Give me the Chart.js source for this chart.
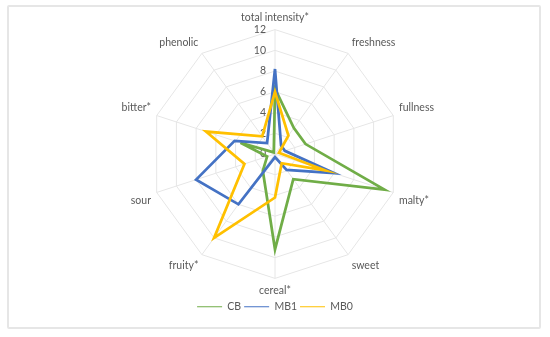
<!DOCTYPE html>
<html>
<head>
<meta charset="utf-8">
<script src="https://cdn.jsdelivr.net/npm/chart.js@4"></script>
<style>
body{margin:0;background:#fff}
#frame{position:absolute;left:7px;top:5px;width:530px;height:320px;border:2px solid #e6e6e6;border-radius:2px}
#chart{position:absolute;left:0;top:0}
</style>
</head>
<body>
<div id="frame"></div>
<canvas id="chart" width="550" height="337"></canvas>
<script>
const labels=["total intensity*","freshness","fullness","malty*","sweet","cereal*","fruity*","sour","bitter*","phenolic"];
const cb=[6.3,3.1,3.1,11.1,3.0,9.2,2.0,0.8,3.5,0.2];
const mb1=[8.2,1.0,1.0,6.0,1.9,0.3,6.0,8.0,4.1,1.3];
const mb0=[6.0,2.2,0.4,5.1,1.1,4.2,10.0,3.1,7.0,2.1];
const tickValues=[0,2,4,6,8,10,12];

// excel puts the tick numbers left of the vertical axis
const tickLabels={
  id:"tickLabels",
  beforeDatasetsDraw(chart){
    const s=chart.scales.r, ctx=chart.ctx;
    ctx.save();
    ctx.font="10.5px Lato";
    ctx.fillStyle="#595959";
    ctx.textAlign="right";
    ctx.textBaseline="middle";
    tickValues.forEach(v=>{
      ctx.fillText(String(v), s.xCenter-9, s.yCenter-s.getDistanceFromCenterForValue(v));
    });
    ctx.restore();
  }
};

new Chart("chart",{
  type:"radar",
  data:{
    labels:labels,
    datasets:[
      {label:"CB",data:cb,borderColor:"#70AD47",backgroundColor:"#70AD47",order:3},
      {label:"MB1",data:mb1,borderColor:"#4472C4",backgroundColor:"#4472C4",order:2},
      {label:"MB0",data:mb0,borderColor:"#FFC000",backgroundColor:"#FFC000",order:1},
    ],
  },
  options:{
    responsive:false,
    animation:false,
    layout:{padding:{top:11,bottom:15,left:10,right:10}},
    elements:{
      line:{borderWidth:2.75,fill:false,tension:0},
      point:{radius:0,hoverRadius:0},
    },
    scales:{
      r:{
        min:0,max:12,
        ticks:{stepSize:2,display:false},
        grid:{color:"#e6e6e6",lineWidth:1},
        angleLines:{color:"#e6e6e6"},
        pointLabels:{font:{family:"Lato",size:10.5},color:"#595959",padding:6},
      }
    },
    plugins:{
      tooltip:{enabled:false},
      legend:{
        position:"bottom",
        labels:{
          usePointStyle:true,pointStyle:"line",pointStyleWidth:25,
          font:{family:"Lato",size:10.5},color:"#595959",padding:3,
          sort:(a,b)=>a.datasetIndex-b.datasetIndex,
        },
      },
    },
  },
  plugins:[tickLabels],
});
</script>
</body>
</html>
